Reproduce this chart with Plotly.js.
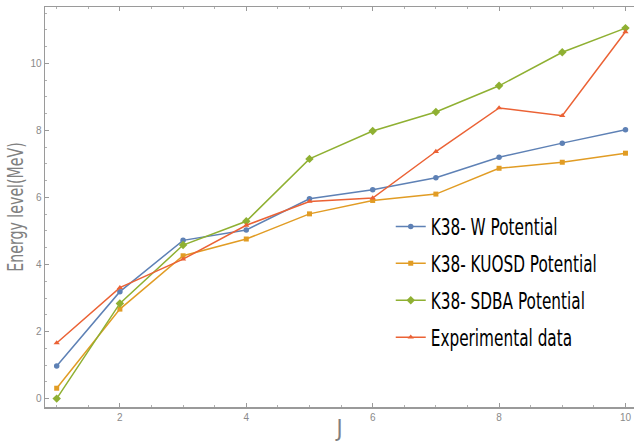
<!DOCTYPE html>
<html>
<head>
<meta charset="utf-8">
<script src="https://cdn.plot.ly/plotly-3.0.1.min.js"></script>
<style>
html,body{margin:0;padding:0;background:#fff;}
#chart{width:634px;height:441px;}
.legendtext{transform:scaleX(0.74);transform-box:fill-box;transform-origin:0 50%;}
</style>
</head>
<body>
<div id="chart"></div>
<script>
const J = [1, 2, 3, 4, 5, 6, 7, 8, 9, 10];
const wPotential = [0.97, 3.19, 4.72, 5.03, 5.96, 6.23, 6.59, 7.20, 7.62, 8.02];
const kuosdPotential = [0.31, 2.67, 4.26, 4.76, 5.51, 5.91, 6.10, 6.87, 7.05, 7.32];
const sdbaPotential = [0.00, 2.84, 4.58, 5.29, 7.15, 7.98, 8.55, 9.33, 10.33, 11.05];
const experimental = [1.66, 3.31, 4.16, 5.17, 5.88, 5.98, 7.37, 8.67, 8.44, 10.94];
const seriesNames = ["K38- W Potential", "K38- KUOSD Potential", "K38- SDBA Potential", "Experimental data"];
const xTicks = [2, 4, 6, 8, 10];
const yTicks = [0, 2, 4, 6, 8, 10];

const colors = ["#5E81B5", "#E19C24", "#8FB032", "#EB6235"];
const symbols = ["circle", "square", "diamond", "triangle-up"];
const sizes = [5.5, 5, 6.5, 5.5];
const allY = [wPotential, kuosdPotential, sdbaPotential, experimental];

const traces = allY.map((ys, i) => ({
  x: J, y: ys, type: "scatter", mode: "lines+markers",
  name: seriesNames[i], legendgroup: "g" + i,
  line: {color: colors[i], width: 1.5},
  marker: {color: colors[i], symbol: symbols[i], size: sizes[i]}
}));

const narrow = '"Liberation Sans Narrow", "Arial Narrow", "DejaVu Sans Condensed", sans-serif';
const axisCommon = {
  showgrid: false, zeroline: false, showline: true,
  linecolor: "#9a9a9a", linewidth: 1.5,
  ticks: "inside", ticklen: 4, tickwidth: 1, tickcolor: "#9a9a9a",
  tickfont: {family: "Liberation Sans, Arial, sans-serif", size: 10, color: "#8a8a8a"},
  minor: {dtick: 0.5, ticks: "inside", ticklen: 2, tickwidth: 1, tickcolor: "#b0b0b0"}
};

const layout = {
  width: 634, height: 441,
  margin: {l: 45, r: 0, t: 7, b: 34},
  paper_bgcolor: "#fff", plot_bgcolor: "#fff",
  showlegend: true,
  legend: {
    x: 0.587, y: 0.505, xanchor: "left", yanchor: "top",
    bgcolor: "rgba(0,0,0,0)", borderwidth: 0,
    tracegroupgap: 4,
    font: {family: narrow, size: 23, color: "#000"}
  },
  xaxis: Object.assign({}, axisCommon, {
    range: [0.815, 10.135], tickvals: xTicks, ticktext: xTicks.map(String),
    mirror: "allticks",
    title: {text: "J", font: {family: narrow, size: 23, color: "#808080"}, standoff: 4}
  }),
  yaxis: Object.assign({}, axisCommon, {
    range: [-0.25, 11.68], tickvals: yTicks, ticktext: yTicks.map(String),
    mirror: false,
    title: {text: "Energy level(MeV)", font: {family: narrow, size: 21, color: "#808080"}, standoff: 1}
  })
};

Plotly.newPlot("chart", traces, layout, {displayModeBar: false, staticPlot: true}).then(() => {
  const t = document.querySelector(".ytitle");
  if (t) {
    const x = parseFloat(t.getAttribute("x")), y = parseFloat(t.getAttribute("y"));
    const tr = t.getAttribute("transform") || "";
    t.setAttribute("transform", tr + ` translate(${x},${y}) scale(0.75,1) translate(${-x},${-y})`);
  }
});
</script>
</body>
</html>
